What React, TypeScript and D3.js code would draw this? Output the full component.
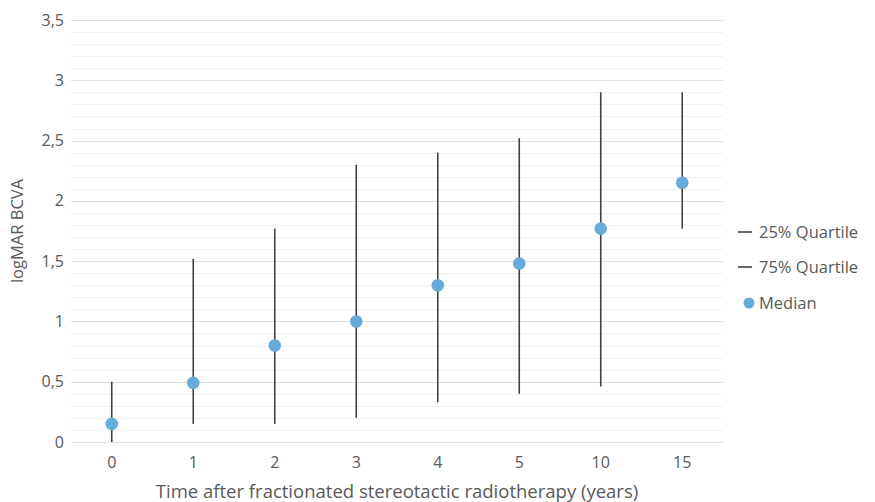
import React, { useEffect, useRef } from 'react';
import * as d3 from 'd3';

const categories = ['0', '1', '2', '3', '4', '5', '10', '15'];
const q25 = [0, 0.15, 0.15, 0.2, 0.33, 0.4, 0.46, 1.77];
const q75 = [0.5, 1.52, 1.77, 2.3, 2.4, 2.52, 2.9, 2.9];
const median = [0.15, 0.49, 0.8, 1.0, 1.3, 1.48, 1.77, 2.15];
const yTicks = [0, 0.5, 1, 1.5, 2, 2.5, 3, 3.5];

const App: React.FC = () => {
  const svgRef = useRef<SVGSVGElement | null>(null);

  useEffect(() => {
    if (!svgRef.current) return;
    const W = 875;
    const H = 502;
    const margin = { top: 20, right: 152, bottom: 60, left: 71 };
    const font = "'Open Sans', 'Noto Sans', sans-serif";
    const textColor = '#595959';

    const svg = d3.select(svgRef.current);
    svg.selectAll('*').remove();

    const x = d3.scaleBand<string>()
      .domain(categories)
      .range([margin.left, W - margin.right]);
    const y = d3.scaleLinear()
      .domain([0, 3.5])
      .range([H - margin.bottom, margin.top]);

    // minor gridlines
    const minor = d3.range(0, 3.5001, 0.1).filter(v => Math.abs(v * 2 - Math.round(v * 2)) > 1e-6);
    svg.append('g').selectAll('line').data(minor).join('line')
      .attr('x1', margin.left).attr('x2', W - margin.right)
      .attr('y1', d => Math.round(y(d)) + 0.5).attr('y2', d => Math.round(y(d)) + 0.5)
      .attr('stroke', '#f1f1f3').attr('stroke-width', 1.2);

    // major gridlines
    svg.append('g').selectAll('line').data(yTicks).join('line')
      .attr('x1', margin.left).attr('x2', W - margin.right)
      .attr('y1', d => Math.round(y(d)) + 0.5).attr('y2', d => Math.round(y(d)) + 0.5)
      .attr('stroke', '#dedde6').attr('stroke-width', 1.2);

    // y tick labels
    svg.append('g').selectAll('text').data(yTicks).join('text')
      .attr('x', margin.left - 7)
      .attr('y', d => y(d))
      .attr('dy', '0.35em')
      .attr('text-anchor', 'end')
      .attr('font-family', font)
      .attr('font-size', 16)
      .attr('fill', textColor)
      .text(d => d3.format('')(d).replace('.', ','));

    // x tick labels
    svg.append('g').selectAll('text').data(categories).join('text')
      .attr('x', d => x(d)! + x.bandwidth() / 2)
      .attr('y', y(0) + 26)
      .attr('text-anchor', 'middle')
      .attr('font-family', font)
      .attr('font-size', 16)
      .attr('fill', textColor)
      .text(d => d);

    // whiskers
    svg.append('g').selectAll('line').data(categories).join('line')
      .attr('x1', d => x(d)! + x.bandwidth() / 2)
      .attr('x2', d => x(d)! + x.bandwidth() / 2)
      .attr('y1', (_, i) => y(q25[i]))
      .attr('y2', (_, i) => y(q75[i]))
      .attr('stroke', '#404040')
      .attr('stroke-width', 1.6);

    // medians
    svg.append('g').selectAll('circle').data(categories).join('circle')
      .attr('cx', d => x(d)! + x.bandwidth() / 2)
      .attr('cy', (_, i) => y(median[i]))
      .attr('r', 6.3)
      .attr('fill', '#66abd9');

    // axis titles
    svg.append('text')
      .attr('x', (margin.left + W - margin.right) / 2)
      .attr('y', 498)
      .attr('text-anchor', 'middle')
      .attr('font-family', font)
      .attr('font-size', 18.5)
      .attr('fill', textColor)
      .text('Time after fractionated stereotactic radiotherapy (years)');

    svg.append('text')
      .attr('transform', `translate(23, ${(margin.top + H - margin.bottom) / 2}) rotate(-90)`)
      .attr('text-anchor', 'middle')
      .attr('font-family', font)
      .attr('font-size', 16.5)
      .attr('fill', textColor)
      .text('logMAR BCVA');

    // legend
    const legend = svg.append('g').attr('transform', 'translate(738, 0)');
    const items = [
      { label: '25% Quartile', y: 232, kind: 'line' },
      { label: '75% Quartile', y: 267, kind: 'line' },
      { label: 'Median', y: 303, kind: 'dot' },
    ];
    items.forEach(it => {
      if (it.kind === 'line') {
        legend.append('line')
          .attr('x1', 0).attr('x2', 14)
          .attr('y1', it.y).attr('y2', it.y)
          .attr('stroke', '#404040').attr('stroke-width', 1.6);
      } else {
        legend.append('circle')
          .attr('cx', 11).attr('cy', it.y).attr('r', 5.5)
          .attr('fill', '#66abd9');
      }
      legend.append('text')
        .attr('x', 21)
        .attr('y', it.y)
        .attr('dy', '0.35em')
        .attr('font-family', font)
        .attr('font-size', 16.5)
        .attr('fill', textColor)
        .text(it.label);
    });
  }, []);

  return (
    <div style={{ position: 'absolute', left: 0, top: 0, width: 875, height: 502, background: '#fff' }}>
      <svg ref={svgRef} width={875} height={502} />
    </div>
  );
};

export default App;
